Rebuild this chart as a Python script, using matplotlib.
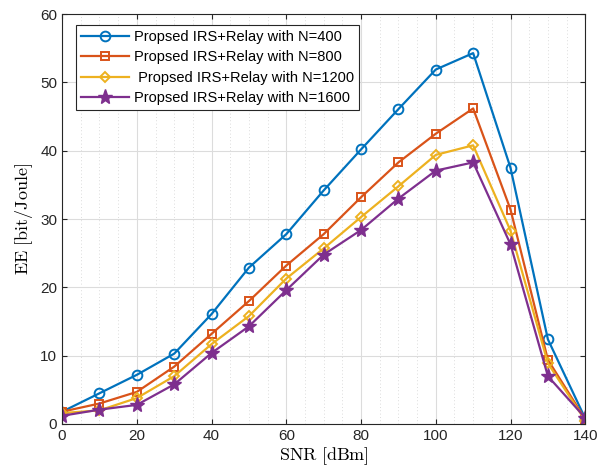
import matplotlib
matplotlib.use("Agg")
import matplotlib.pyplot as plt
from matplotlib.ticker import MultipleLocator

snr = [0, 10, 20, 30, 40, 50, 60, 70, 80, 90, 100, 110, 120, 130, 140]
ee_400 = [1.8, 4.5, 7.2, 10.3, 16.1, 22.9, 27.8, 34.2, 40.2, 46.1, 51.9, 54.3, 37.5, 12.4, 0.8]
ee_800 = [1.8, 3.0, 4.7, 8.4, 13.2, 18.0, 23.2, 27.8, 33.2, 38.3, 42.5, 46.2, 31.4, 9.4, 0.7]
ee_1200 = [1.6, 2.0, 3.8, 7.0, 11.7, 15.8, 21.3, 25.7, 30.3, 34.8, 39.4, 40.8, 28.3, 8.9, 0.5]
ee_1600 = [1.2, 2.1, 2.8, 5.8, 10.4, 14.3, 19.6, 24.8, 28.4, 33.0, 37.1, 38.3, 26.3, 7.0, 0.9]
labels = ["Propsed IRS+Relay with N=400", "Propsed IRS+Relay with N=800",
          " Propsed IRS+Relay with N=1200", "Propsed IRS+Relay with N=1600"]

plt.rcParams['font.family'] = ['Liberation Sans', 'DejaVu Sans']
plt.rcParams['mathtext.fontset'] = 'cm'

fig = plt.figure(figsize=(6.09, 4.73), dpi=100)
ax = fig.add_axes([0.102, 0.1036, 0.859, 0.8664])

colors = ['#0072BD', '#D95319', '#EDB120', '#7E2F8E']
series = [ee_400, ee_800, ee_1200, ee_1600]
markers = ['o', 's', 'D', '*']
msizes = [7, 6, 5.5, 11]
for ys, c, m, ms, lab in zip(series, colors, markers, msizes, labels):
    if m == '*':
        ax.plot(snr, ys, color=c, lw=1.6, marker=m, ms=ms, mfc=c, mec=c, label=lab)
    else:
        ax.plot(snr, ys, color=c, lw=1.6, marker=m, ms=ms, mfc='none', mec=c, mew=1.4, label=lab)

ax.set_xlim(0, 140)
ax.set_ylim(0, 60)
ax.xaxis.set_major_locator(MultipleLocator(20))
ax.xaxis.set_minor_locator(MultipleLocator(5))
ax.yaxis.set_major_locator(MultipleLocator(10))
ax.grid(which='major', color='#dcdcdc', lw=0.8)
ax.grid(which='minor', axis='x', color='#d0d0d0', lw=0.6, ls=(0, (1, 3)))
ax.tick_params(which='both', direction='in', top=True, right=True, labelsize=11, colors='#262626')
ax.tick_params(which='minor', length=0)
for s in ax.spines.values():
    s.set_color('#262626')
    s.set_linewidth(0.8)

ax.set_xlabel(r'$\mathrm{SNR\ [dBm]}$', fontsize=13, labelpad=2)
ax.set_ylabel(r'$\mathrm{EE\ [bit/Joule]}$', fontsize=13, labelpad=4)

leg = ax.legend(loc='upper left', bbox_to_anchor=(0.027, 0.973), fontsize=10.5,
                frameon=True, fancybox=False, edgecolor='#262626', framealpha=1,
                handlelength=3.3, borderpad=0.35, labelspacing=0.42, handletextpad=0.3,
                borderaxespad=0)
leg.get_frame().set_linewidth(0.8)

fig.savefig('out.png', dpi=100)
